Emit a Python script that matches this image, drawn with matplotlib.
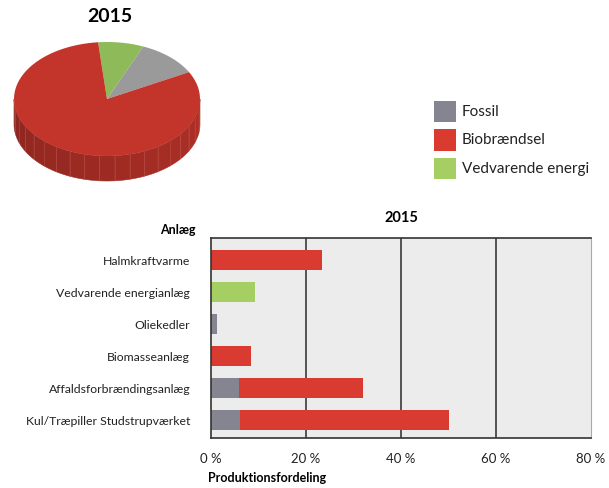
import numpy as np
import matplotlib
matplotlib.use("Agg")
from matplotlib import pyplot as plt
from matplotlib.patches import Polygon, Rectangle

plt.rcParams['font.family'] = ['Lato', 'DejaVu Sans']

# pie data 2015 (share of production, %)
pie_labels = ['Vedvarende energi', 'Fossil', 'Biobrændsel']
pie_values = [7.9, 10.8, 81.3]

# bar data 2015 (Produktionsfordeling, %)
plants = ['Halmkraftvarme', 'Vedvarende energianlæg', 'Oliekedler',
          'Biomasseanlæg', 'Affaldsforbrændingsanlæg', 'Kul/Træpiller Studstrupværket']
fossil = [0, 0, 1.2, 0, 5.9, 6.0]
bio = [23.3, 0, 0, 8.4, 26.2, 44.2]
renew = [0, 9.3, 0, 0, 0, 0]

legend_labels = ['Fossil', 'Biobrændsel', 'Vedvarende energi']
col_fossil = '#858592'
col_bio = '#d93b30'
col_renew = '#a5cf62'
top_cols = {'Vedvarende energi': '#8fba5a', 'Fossil': '#9a9a9a', 'Biobrændsel': '#c3352b'}

fig = plt.figure(figsize=(6.09, 4.89), dpi=100)

# overlay axes in pixel coordinates for pie + legend
ov = fig.add_axes([0, 0, 1, 1])
ov.set_xlim(0, 609)
ov.set_ylim(489, 0)
ov.axis('off')

cx, cy, rx, ry, depth = 107, 100, 93, 57, 25
ov.text(110, 17, '2015', fontsize=14, fontweight='bold', ha='center', va='center')

# side wall (front half only)
start = 95.5
angles = []
a = start
for v in pie_values:
    a1 = a - v * 3.6
    angles.append((a, a1))
    a = a1
for (a0, a1), lab in zip(angles, pie_labels):
    lo, hi = min(a0, a1), max(a0, a1)
    for off in (0, -360, 360):
        s = max(lo + off, -180)
        e = min(hi + off, 0)
        if e <= s:
            continue
        steps = np.linspace(s, e, max(2, int((e - s) / 10) + 2))
        for t0, t1 in zip(steps[:-1], steps[1:]):
            tt = np.radians(np.linspace(t0, t1, 6))
            xs = cx + rx * np.cos(tt)
            ys = cy - ry * np.sin(tt)
            pts = list(zip(xs, ys)) + list(zip(xs[::-1], ys[::-1] + depth))
            f = ((t0 + t1) / 2 + 180) / 180.0
            base = np.array(matplotlib.colors.to_rgb(top_cols[lab]))
            c = np.clip(base * (0.72 + 0.18 * f), 0, 1)
            ov.add_patch(Polygon(pts, closed=True, facecolor=c, edgecolor=c, lw=0.4))
            ov.plot([xs[0], xs[0]], [ys[0], ys[0] + depth], color='#e08a80', lw=0.4, alpha=0.35)

# top wedges
for (a0, a1), lab in zip(angles, pie_labels):
    tt = np.radians(np.linspace(a0, a1, 100))
    pts = [(cx, cy)] + list(zip(cx + rx * np.cos(tt), cy - ry * np.sin(tt)))
    ov.add_patch(Polygon(pts, closed=True, facecolor=top_cols[lab], edgecolor='none'))

# legend
for i, (lab, c) in enumerate(zip(legend_labels, [col_fossil, col_bio, col_renew])):
    y = 112 + i * 28.5
    ov.add_patch(Rectangle((434, y - 10.5), 21.5, 21.5, facecolor=c, edgecolor='none'))
    ov.text(462, y, lab, fontsize=11, va='center', ha='left', color='#222222')

# bar chart
ax = fig.add_axes([211 / 609, 1 - 439 / 489, 380 / 609, 200 / 489])
ax.set_facecolor('#ececec')
y = np.arange(len(plants))
h = 0.62
ax.barh(y, fossil, height=h, color=col_fossil)
ax.barh(y, bio, left=fossil, height=h, color=col_bio)
ax.barh(y, renew, left=np.array(fossil) + np.array(bio), height=h, color=col_renew)
ax.set_xlim(0, 80)
ax.set_ylim(5.57, -0.68)
ax.set_xticks([0, 20, 40, 60, 80])
ax.set_xticklabels(['0 %', '20 %', '40 %', '60 %', '80 %'], fontsize=9.5, color='#222222')
ax.tick_params(axis='x', length=0, pad=10)
ax.set_yticks(y)
ax.set_yticklabels(plants, fontsize=8.8, color='#222222')
ax.tick_params(axis='y', length=0, pad=15)
for xv in [20, 40, 60]:
    ax.axvline(xv, color='#3a3a3a', lw=1.2, zorder=0.5)
for s in ['left', 'top', 'bottom']:
    ax.spines[s].set_color('#333333')
    ax.spines[s].set_linewidth(1.2)
ax.spines['right'].set_color('#aaaaaa')
ax.set_axisbelow(True)
ax.set_title('2015', fontsize=10.5, fontweight='bold', pad=12)

ov.text(196, 230, 'Anlæg', fontsize=9, fontweight='bold', ha='right', va='center')
ov.text(208, 478, 'Produktionsfordeling', fontsize=9, fontweight='bold', ha='left', va='center')

fig.savefig('out.png', dpi=100)
